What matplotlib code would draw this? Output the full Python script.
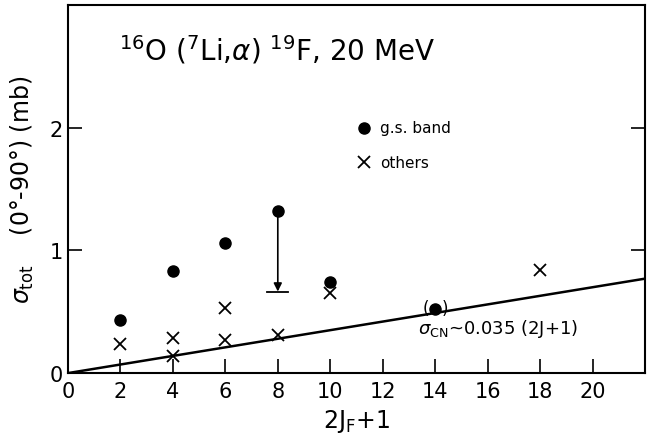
import matplotlib
matplotlib.use("Agg")
import matplotlib.pyplot as plt
import numpy as np

plt.rcParams['font.family'] = ['DejaVu Sans']
plt.rcParams['mathtext.fontset'] = 'dejavusans'

# g.s. band (filled circles)
gs_x = [2, 4, 6, 8, 10]
gs_y = [0.43, 0.83, 1.06, 1.32, 0.74]
# bracketed g.s. point
gs_paren_x = [14]
gs_paren_y = [0.52]
# others (crosses)
oth_x = [2, 4, 4, 6, 6, 8, 10, 18]
oth_y = [0.24, 0.29, 0.14, 0.53, 0.27, 0.31, 0.65, 0.84]
# arrow from the 2J+1=8 point down to
arrow_x = 8
arrow_top = 1.32
arrow_bottom = 0.665
# compound-nucleus estimate
cn_coef = 0.035
x_ticks = [0, 2, 4, 6, 8, 10, 12, 14, 16, 18, 20]
y_ticks = [0, 1, 2]

fig = plt.figure(figsize=(6.47, 4.35), dpi=100)
ax = fig.add_axes([0.105, 0.140, 0.892, 0.846])
ax.set_xlim(0, 22)
ax.set_ylim(0, 3)

# CN line
xl = np.array([0, 22])
ax.plot(xl, cn_coef * xl, color='black', lw=1.8, zorder=1)

ax.plot(gs_x, gs_y, 'o', color='black', ms=8, zorder=3)
ax.plot(gs_paren_x, gs_paren_y, 'o', color='black', ms=8, zorder=3)
ax.text(gs_paren_x[0] - 0.36, gs_paren_y[0] + 0.01, '(', ha='center', va='center', fontsize=12, zorder=4)
ax.text(gs_paren_x[0] + 0.36, gs_paren_y[0] + 0.01, ')', ha='center', va='center', fontsize=12, zorder=4)
ax.plot(oth_x, oth_y, 'x', color='black', ms=9, mew=1.3, zorder=3)

# arrow
ax.annotate('', xy=(arrow_x, arrow_bottom), xytext=(arrow_x, arrow_top),
            arrowprops=dict(arrowstyle='-|>', color='black', lw=1.2,
                            mutation_scale=12, shrinkA=0, shrinkB=0))
ax.plot([arrow_x - 0.4, arrow_x + 0.4], [arrow_bottom, arrow_bottom], color='black', lw=1.3)

# legend (manual)
ax.plot([11.3], [2.0], 'o', color='black', ms=8)
ax.text(11.9, 2.0, 'g.s. band', va='center', ha='left', fontsize=11)
ax.plot([11.3], [1.72], 'x', color='black', ms=9, mew=1.3)
ax.text(11.9, 1.72, 'others', va='center', ha='left', fontsize=11)

# title inside
ax.text(1.95, 2.64, r'$^{16}$O ($^{7}$Li,$\alpha$) $^{19}$F, 20 MeV',
        ha='left', va='center', fontsize=20)

# CN formula
ax.text(13.35, 0.37, r'$\sigma_{\rm CN}$~0.035 (2J+1)', ha='left', va='center', fontsize=13)

ax.set_xticks(x_ticks)
ax.set_yticks(y_ticks)
ax.set_xticklabels([str(t) for t in x_ticks])
ax.set_yticklabels([str(t) for t in y_ticks])
ax.tick_params(direction='in', length=10, width=1.2, labelsize=15, right=True, top=False)
ax.tick_params(axis='x', pad=6)
for s in ax.spines.values():
    s.set_linewidth(1.5)

ax.set_xlabel(r'2J$_{\rm F}$+1', fontsize=17, labelpad=4)
ax.set_ylabel(r'$\sigma_{\rm tot}$    (0°-90°) (mb)', fontsize=17, labelpad=10)

fig.savefig('out.png', dpi=100)
